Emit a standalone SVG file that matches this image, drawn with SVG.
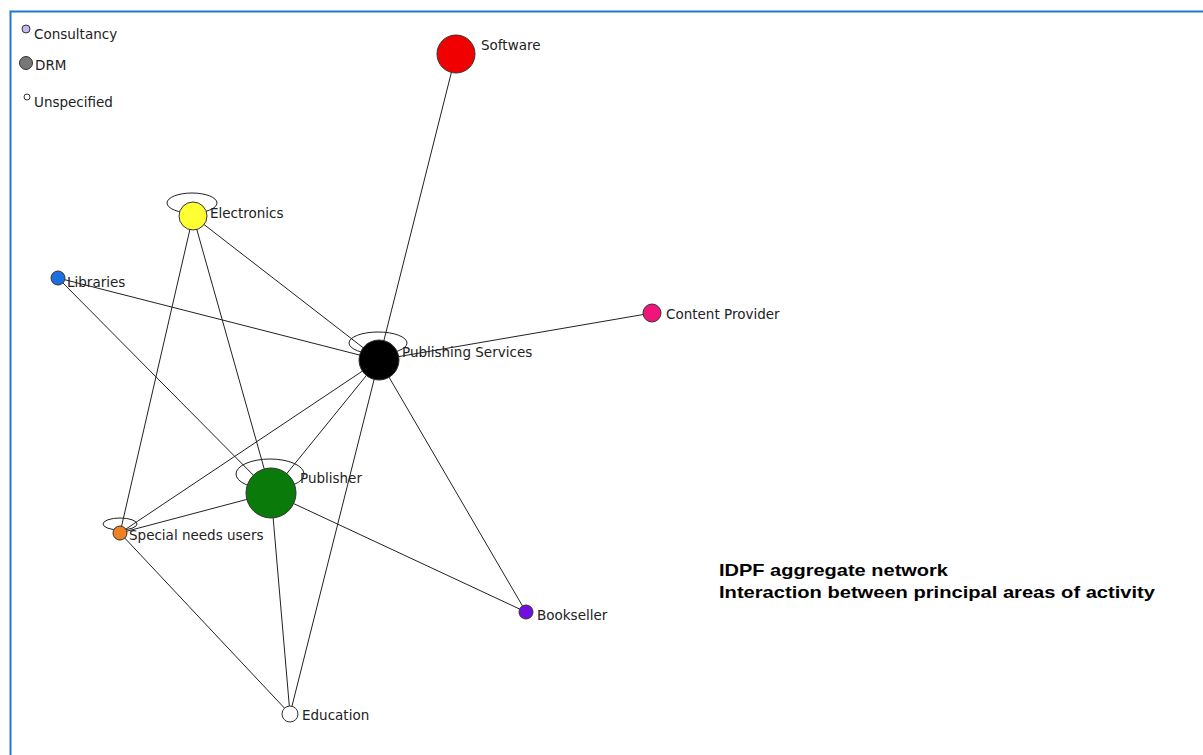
<svg xmlns="http://www.w3.org/2000/svg" width="1203" height="755" viewBox="0 0 1203 755">
<style>
.edge{stroke:#222;stroke-width:1;fill:none}
.loop{stroke:#222;stroke-width:1;fill:none}
.node{stroke:#333;stroke-width:1}
.lbl{font-family:"DejaVu Sans","Liberation Sans",sans-serif;font-size:13.5px;fill:#222}
.title{font-family:"Liberation Sans",Arial,sans-serif;font-size:17px;font-weight:bold;fill:#000}
</style>
<rect x="0" y="0" width="1203" height="755" fill="#fff"/>
<path d="M10.5,755 V11.5 H1203" stroke="#1e78d2" stroke-width="2" fill="none"/>
<g id="legend">
<circle cx="26" cy="29" r="4" fill="#c8b8ee" class="node"/>
<text x="34" y="39" class="lbl">Consultancy</text>
<circle cx="26" cy="63" r="6.5" fill="#777" class="node"/>
<text x="35" y="70" class="lbl">DRM</text>
<circle cx="27" cy="97" r="3" fill="#fff" class="node"/>
<text x="34" y="107" class="lbl">Unspecified</text>
</g>
<g id="connectors">
<line class="edge" x1="456" y1="54" x2="379" y2="360"/>
<line class="edge" x1="193" y1="216" x2="379" y2="360"/>
<line class="edge" x1="193" y1="216" x2="120" y2="533"/>
<line class="edge" x1="193" y1="216" x2="271" y2="493"/>
<line class="edge" x1="58" y1="278" x2="379" y2="360"/>
<line class="edge" x1="58" y1="278" x2="271" y2="493"/>
<line class="edge" x1="652" y1="313" x2="379" y2="360"/>
<line class="edge" x1="379" y1="360" x2="271" y2="493"/>
<line class="edge" x1="379" y1="360" x2="120" y2="533"/>
<line class="edge" x1="379" y1="360" x2="290" y2="714"/>
<line class="edge" x1="379" y1="360" x2="526" y2="612"/>
<line class="edge" x1="271" y1="493" x2="120" y2="533"/>
<line class="edge" x1="271" y1="493" x2="526" y2="612"/>
<line class="edge" x1="271" y1="493" x2="290" y2="714"/>
<line class="edge" x1="120" y1="533" x2="290" y2="714"/>
<ellipse class="loop" cx="192" cy="203" rx="25" ry="10"/>
<ellipse class="loop" cx="378" cy="343" rx="29" ry="11"/>
<ellipse class="loop" cx="270" cy="474" rx="34" ry="15"/>
<ellipse class="loop" cx="120" cy="524" rx="17" ry="6"/>
</g>
<g id="software"><circle cx="456" cy="54" r="19" fill="#f00000" class="node"/><text x="481" y="50" class="lbl">Software</text></g>
<g id="electronics"><circle cx="193" cy="216" r="14" fill="#ffff33" class="node"/><text x="210" y="218" class="lbl">Electronics</text></g>
<g id="libraries"><circle cx="58" cy="278" r="7" fill="#1d6fe0" class="node"/><text x="67" y="287" class="lbl">Libraries</text></g>
<g id="content-provider"><circle cx="652" cy="313" r="9" fill="#f0157a" class="node"/><text x="666" y="319" class="lbl">Content Provider</text></g>
<g id="publishing-services"><circle cx="379" cy="360" r="20" fill="#000" class="node"/><text x="402" y="357" class="lbl">Publishing Services</text></g>
<g id="publisher"><circle cx="271" cy="493" r="25" fill="#0a7a0a" class="node"/><text x="300" y="483" class="lbl">Publisher</text></g>
<g id="special-needs-users"><circle cx="120" cy="533" r="7" fill="#f08020" class="node"/><text x="129" y="540" class="lbl">Special needs users</text></g>
<g id="bookseller"><circle cx="526" cy="612" r="7" fill="#7010e0" class="node"/><text x="537" y="620" class="lbl">Bookseller</text></g>
<g id="education"><circle cx="290" cy="714" r="8" fill="#fff" class="node"/><text x="302" y="720" class="lbl">Education</text></g>
<g id="title">
<text x="719" y="576" class="title" textLength="229" lengthAdjust="spacingAndGlyphs">IDPF aggregate network</text>
<text x="719" y="598" class="title" textLength="436" lengthAdjust="spacingAndGlyphs">Interaction between principal areas of activity</text>
</g>
</svg>
